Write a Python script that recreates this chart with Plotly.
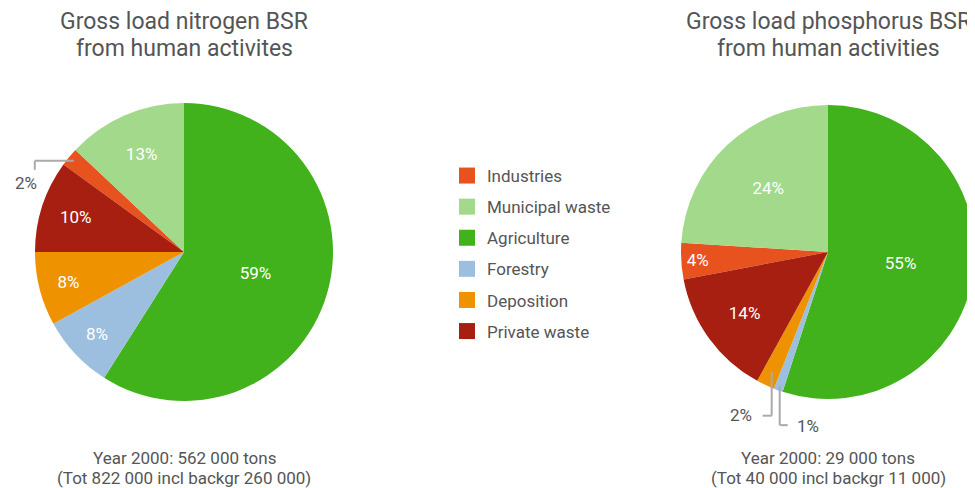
import numpy as np
import plotly.graph_objects as go

# categories in legend order
categories = ["Industries", "Municipal waste", "Agriculture", "Forestry", "Deposition", "Private waste"]
colors = ["#E8521F", "#A2D98B", "#41B21B", "#9CBEDF", "#EE9200", "#A61F10"]

# percent shares
nitrogen_pct = [2, 13, 59, 8, 8, 10]
phosphorus_pct = [4, 24, 55, 1, 2, 14]

nitrogen_title = ["Gross load nitrogen BSR", "from human activites"]
phosphorus_title = ["Gross load phosphorus BSR", "from human activities"]
nitrogen_note = ["Year 2000: 562 000 tons", "(Tot 822 000 incl backgr 260 000)"]
phosphorus_note = ["Year 2000: 29 000 tons", "(Tot 40 000 incl backgr 11 000)"]

# page body has an 8px margin, so the figure is a bit smaller than the window
W, H = 967, 480
FONT = "Roboto, Arial, sans-serif"
GREY = "#555555"

# pie geometry in figure pixels
left_c, left_r = (176, 244), 149
right_c, right_r = (820, 244), 147


def domain(c, r):
    x0, x1 = (c[0] - r) / W, min((c[0] + r) / W, 1)
    y0, y1 = (H - c[1] - r) / H, (H - c[1] + r) / H
    return dict(x=[x0, x1], y=[y0, y1])


def start_rotation(vals):
    # agriculture starts at 12 o'clock, industries + municipal sit before it
    return -(vals[0] + vals[1]) / sum(vals) * 360


def slice_point(vals, idx, c, r, frac):
    vals = np.array(vals, dtype=float)
    start = start_rotation(vals) + vals[:idx].sum() / vals.sum() * 360
    mid = np.radians(start + vals[idx] / vals.sum() * 180)
    return c[0] + frac * r * np.sin(mid), c[1] - frac * r * np.cos(mid)


def to_paper(x, y):
    return x / W, (H - y) / H


fig = go.Figure()

for vals, c, r in [(nitrogen_pct, left_c, left_r), (phosphorus_pct, right_c, right_r)]:
    fig.add_trace(go.Pie(
        labels=categories,
        values=vals,
        sort=False,
        direction="clockwise",
        rotation=start_rotation(vals),
        marker=dict(colors=colors, line=dict(width=0)),
        texttemplate="%{value}%",
        textposition=["inside" if v >= 4 else "none" for v in vals],
        insidetextorientation="horizontal",
        textfont=dict(family=FONT, size=17, color="white"),
        domain=domain(c, r),
        showlegend=False,
        hoverinfo="label+percent",
    ))

# legend entries
for cat, col in zip(categories, colors):
    fig.add_trace(go.Scatter(
        x=[None], y=[None], mode="markers", name=cat, legendgroup=cat,
        marker=dict(symbol="square", size=16, color=col),
    ))

shapes = []
annotations = []

# callouts for small slices
callouts = [
    # values, index, center, radius, anchor frac, path, label offset
    (nitrogen_pct, 0, left_c, left_r, 0.96, [(-39, 0), (-39, 9)], (-48, 22)),
    (phosphorus_pct, 4, right_c, right_r, 0.9, [(0, 44), (-9, 44)], (-31, 43)),
    (phosphorus_pct, 3, right_c, right_r, 0.97, [(0, 39), (8, 39)], (28, 40)),
]
for vals, idx, c, r, frac, path, loff in callouts:
    ax, ay = slice_point(vals, idx, c, r, frac)
    pts = [(ax, ay)] + [(ax + dx, ay + dy) for dx, dy in path]
    for (x0, y0), (x1, y1) in zip(pts[:-1], pts[1:]):
        px0, py0 = to_paper(x0, y0)
        px1, py1 = to_paper(x1, y1)
        shapes.append(dict(type="line", xref="paper", yref="paper",
                           x0=px0, y0=py0, x1=px1, y1=py1,
                           line=dict(color="#AAAAAA", width=2)))
    lx, ly = to_paper(ax + loff[0], ay + loff[1])
    annotations.append(dict(x=lx, y=ly, xref="paper", yref="paper",
                            xanchor="center", yanchor="middle",
                            text=f"{vals[idx]}%", showarrow=False,
                            font=dict(family=FONT, size=17, color=GREY)))

for title, note, c in [(nitrogen_title, nitrogen_note, left_c), (phosphorus_title, phosphorus_note, right_c)]:
    for line, y in zip(title, [13, 40]):
        annotations.append(dict(x=c[0] / W, y=1 - y / H, xref="paper", yref="paper",
                                xanchor="center", yanchor="middle", text=line, showarrow=False,
                                font=dict(family=FONT, size=23, color=GREY)))
    for line, y in zip(note, [450, 470]):
        annotations.append(dict(x=c[0] / W, y=1 - y / H, xref="paper", yref="paper",
                                xanchor="center", yanchor="middle", text=line, showarrow=False,
                                font=dict(family=FONT, size=17, color=GREY)))

fig.update_layout(
    width=W, height=H,
    margin=dict(l=0, r=0, t=0, b=0),
    paper_bgcolor="white", plot_bgcolor="white",
    xaxis=dict(visible=False), yaxis=dict(visible=False),
    legend=dict(x=439 / W, y=1 - 150 / H, xanchor="left", yanchor="top",
                tracegroupgap=6, itemsizing="trace",
                font=dict(family=FONT, size=17, color=GREY)),
    shapes=shapes, annotations=annotations,
)

fig.write_html("out.html")
